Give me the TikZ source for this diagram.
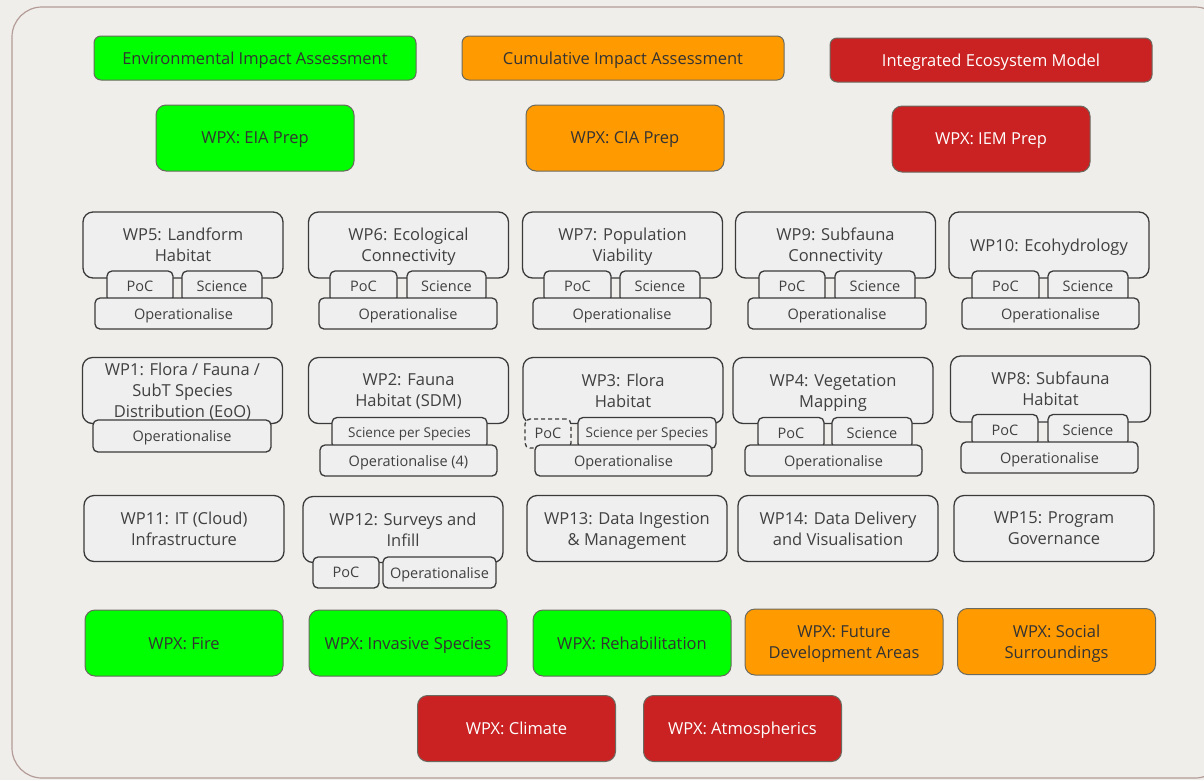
\documentclass[tikz,border=0pt]{standalone}
\usepackage{fontspec}
\setmainfont{Open Sans}
\usepackage{tikz}
\usetikzlibrary{positioning}
\definecolor{paper}{HTML}{F0EEEA}
\definecolor{frameline}{HTML}{B49C98}
\definecolor{edge}{HTML}{3A3A3A}
\definecolor{wpfill}{HTML}{EFEFEF}
\definecolor{wptext}{HTML}{404040}
\definecolor{eiagreen}{HTML}{00FF00}
\definecolor{ciaorange}{HTML}{FF9A00}
\definecolor{iemred}{HTML}{CA2222}
\definecolor{coledge}{HTML}{6A6A60}
\tikzset{
  wp/.style={draw=edge, fill=wpfill, line width=1.3pt, rounded corners=10pt, text=wptext, align=center,
    minimum width=200pt, minimum height=66pt, inner sep=0pt, text depth=0pt, font=\fontsize{16.5}{21}\selectfont},
  tab/.style={draw=edge, fill=wpfill, line width=1.3pt, rounded corners=5pt, text=wptext, align=center,
    minimum height=31pt, inner sep=0pt, text depth=0pt, font=\fontsize{14.5}{17}\selectfont},
  wpx/.style={draw=coledge, line width=1pt, rounded corners=10pt, align=center, minimum width=198pt,
    minimum height=66pt, inner sep=0pt, text depth=0pt, font=\fontsize{16.5}{21}\selectfont},
  head/.style={wpx, minimum width=322pt, minimum height=44pt, rounded corners=7pt},
  eia/.style={fill=eiagreen, text=black!80},
  cia/.style={fill=ciaorange, text=black!80},
  iem/.style={fill=iemred, text=white}
}
\begin{document}
\begin{tikzpicture}[x=1pt,y=-1pt]
\useasboundingbox (0,0) rectangle (1204,780);
\fill[paper] (0,0) rectangle (1204,780);
\draw[frameline, line width=1.2pt, rounded corners=30pt] (12,7) rectangle (1225,778);
% assessment headers
\node[head,eia] (eiahead) at (255,58) {Environmental Impact Assessment};
\node[head,cia] (ciahead) at (623,58) {Cumulative Impact Assessment};
\node[head,iem] (iemhead) at (991,60) {Integrated Ecosystem Model};
\node[wpx,eia] (eiaprep) at (255,138) {WPX: EIA Prep};
\node[wpx,cia] (ciaprep) at (625,138) {WPX: CIA Prep};
\node[wpx,iem] (iemprep) at (991,139) {WPX: IEM Prep};
% first row of work packages
\node[wp] (wp5) at (183,245) {WP5: Landform\\Habitat};
\node[tab, minimum width=66pt] (wp5poc) at (140,286.5) {PoC};
\node[tab, minimum width=80pt] (wp5sci) at (222,286.5) {Science};
\node[tab, minimum width=177pt] (wp5op) at (183.5,313.5) {Operationalise};
\node[wp] (wp6) at (408.5,245) {WP6: Ecological\\Connectivity};
\node[tab, minimum width=67pt] (wp6poc) at (363.5,286.5) {PoC};
\node[tab, minimum width=79pt] (wp6sci) at (446.5,286.5) {Science};
\node[tab, minimum width=178pt] (wp6op) at (408,313.5) {Operationalise};
\node[wp] (wp7) at (622.5,245) {WP7: Population\\Viability};
\node[tab, minimum width=67pt] (wp7poc) at (577.5,286.5) {PoC};
\node[tab, minimum width=80pt] (wp7sci) at (660,286.5) {Science};
\node[tab, minimum width=178pt] (wp7op) at (622,313.5) {Operationalise};
\node[wp] (wp9) at (835.5,245) {WP9: Subfauna\\Connectivity};
\node[tab, minimum width=66pt] (wp9poc) at (792,286.5) {PoC};
\node[tab, minimum width=80pt] (wp9sci) at (875,286.5) {Science};
\node[tab, minimum width=178pt] (wp9op) at (837,313.5) {Operationalise};
\node[wp] (wp10) at (1049,245) {WP10: Ecohydrology};
\node[tab, minimum width=67pt] (wp10poc) at (1005.5,286.5) {PoC};
\node[tab, minimum width=80pt] (wp10sci) at (1088,286.5) {Science};
\node[tab, minimum width=177pt] (wp10op) at (1050.5,313.5) {Operationalise};
% second row
\node[wp] (wp1) at (182.5,390.5) {WP1: Flora / Fauna /\\SubT Species\\Distribution (EoO)};
\node[tab, minimum width=178pt, minimum height=32pt] (wp1op) at (182,436) {Operationalise};
\node[wp] (wp2) at (408.5,390.5) {WP2: Fauna\\Habitat (SDM)};
\node[tab, minimum width=155pt, font=\fontsize{13.5}{16}\selectfont] (wp2sci) at (409.5,433) {Science per Species};
\node[tab, minimum width=177pt] (wp2op) at (408.5,460.5) {Operationalise (4)};
\node[wp] (wp3) at (623,390.5) {WP3: Flora\\Habitat};
\node[tab, dash pattern=on 4pt off 3pt, minimum width=46pt, minimum height=29pt] (wp3poc) at (548,433.5) {PoC};
\node[tab, minimum width=138pt, font=\fontsize{13.5}{16}\selectfont] (wp3sci) at (647,433) {Science per Species};
\node[tab, minimum width=177pt] (wp3op) at (623.5,460.5) {Operationalise};
\node[wp] (wp4) at (833,390.5) {WP4: Vegetation\\Mapping};
\node[tab, minimum width=66pt] (wp4poc) at (791,433) {PoC};
\node[tab, minimum width=80pt] (wp4sci) at (872,433) {Science};
\node[tab, minimum width=177pt] (wp4op) at (833.5,460.5) {Operationalise};
\node[wp] (wp8) at (1050.5,389) {WP8: Subfauna\\Habitat};
\node[tab, minimum width=66pt] (wp8poc) at (1005,430) {PoC};
\node[tab, minimum width=80pt] (wp8sci) at (1088,430) {Science};
\node[tab, minimum width=177pt] (wp8op) at (1049.5,457.5) {Operationalise};
% third row
\node[wp] (wp11) at (184,528.5) {WP11: IT (Cloud)\\Infrastructure};
\node[wp] (wp12) at (403,529.5) {WP12: Surveys and\\Infill};
\node[tab, minimum width=66pt] (wp12poc) at (346,572.5) {PoC};
\node[tab, minimum width=113pt] (wp12op) at (439.5,572.5) {Operationalise};
\node[wp] (wp13) at (627,528.5) {WP13: Data Ingestion\\\& Management};
\node[wp] (wp14) at (838,528.5) {WP14: Data Delivery\\and Visualisation};
\node[wp] (wp15) at (1054,528.5) {WP15: Program\\Governance};
% additional packages
\node[wpx,eia] (fire) at (184,643) {WPX: Fire};
\node[wpx,eia] (invasive) at (408,643) {WPX: Invasive Species};
\node[wpx,eia] (rehab) at (632,643) {WPX: Rehabilitation};
\node[wpx,cia] (future) at (844,642) {WPX: Future\\Development Areas};
\node[wpx,cia] (social) at (1056.5,641.5) {WPX: Social\\Surroundings};
\node[wpx,iem] (climate) at (516.5,728.5) {WPX: Climate};
\node[wpx,iem] (atmos) at (742.5,728.5) {WPX: Atmospherics};
\end{tikzpicture}
\end{document}
